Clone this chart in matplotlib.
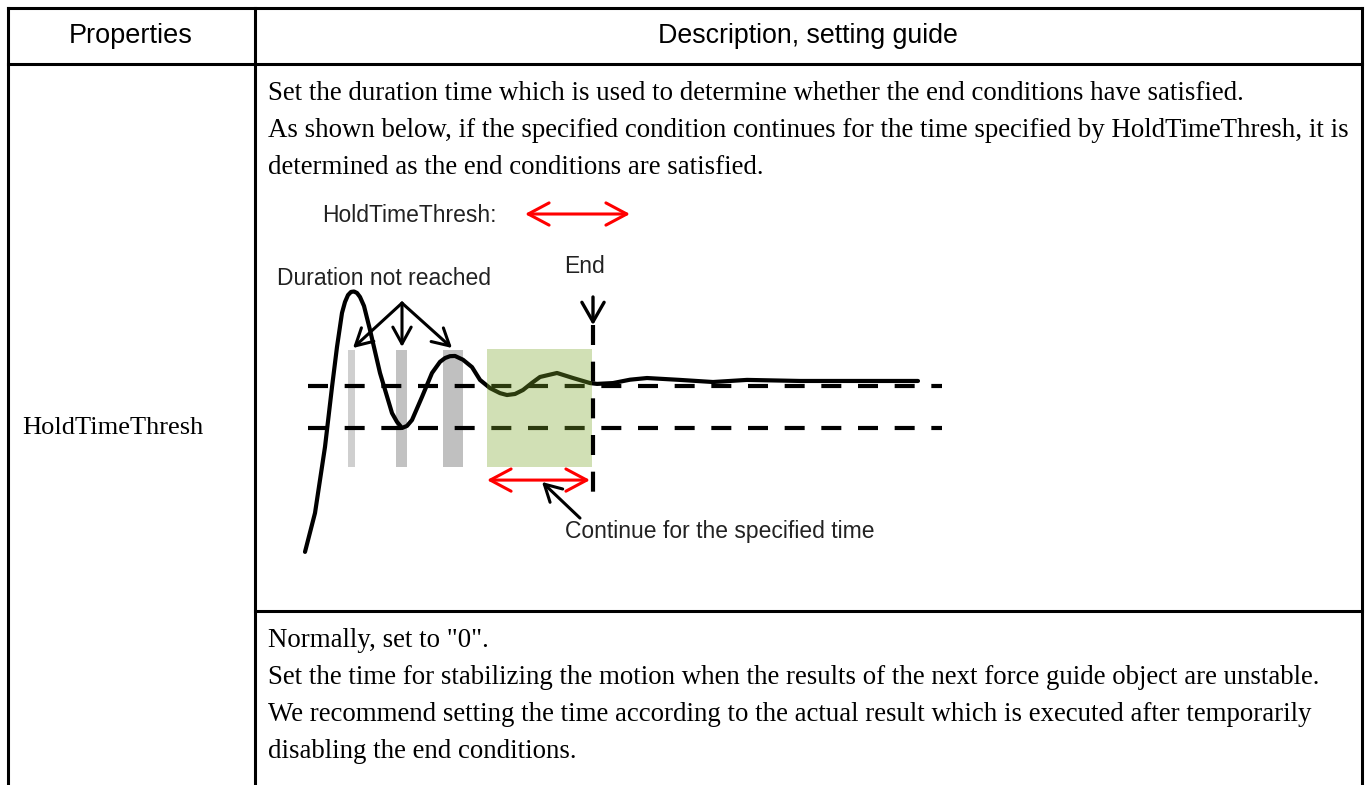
import matplotlib.pyplot as plt
import numpy as np
from matplotlib.patches import Rectangle, FancyArrowPatch

# Textos de la tabla
header = ["Properties", "Description, setting guide"]
prop_name = "HoldTimeThresh"
desc_top = [
    "Set the duration time which is used to determine whether the end conditions have satisfied.",
    "As shown below, if the specified condition continues for the time specified by HoldTimeThresh, it is",
    "determined as the end conditions are satisfied.",
]
desc_bottom = [
    'Normally, set to "0".',
    "Set the time for stabilizing the motion when the results of the next force guide object are unstable.",
    "We recommend setting the time according to the actual result which is executed after temporarily",
    "disabling the end conditions.",
]

# Datos del diagrama (tiempo, respuesta)
curve_t = [0.5, 1.5, 2.5, 3.2, 3.7, 4.2, 4.5, 4.8, 5.1, 5.4, 5.7, 6.0, 6.4, 7.0, 8.0, 9.2,
           9.7, 10.2, 10.7, 11.2, 12.2, 13.2, 14.0, 14.5, 15.0, 15.5, 16.3, 17.2, 18.0, 19.0,
           20.0, 20.7, 21.5, 22.3, 23.2, 24.0, 25.7, 27.3, 29.0, 29.7, 31.3, 33.0, 34.7, 38.0,
           41.3, 44.7, 50.0, 55.0, 61.8]
curve_v = [-6.90, -5.05, -1.90, 0.95, 2.86, 4.48, 5.00, 5.33, 5.48, 5.50, 5.43, 5.24, 4.81,
           3.67, 1.62, -0.29, -0.71, -1.00, -0.90, -0.62, 0.48, 1.62, 2.15, 2.33, 2.42, 2.43,
           2.25, 1.90, 1.29, 0.90, 0.66, 0.57, 0.62, 0.81, 1.15, 1.43, 1.62, 1.38, 1.14, 1.10,
           1.14, 1.30, 1.38, 1.29, 1.19, 1.29, 1.24, 1.24, 1.24]
thresholds = [1.0, -1.0]
bars = [(4.8, 5.5, "#cfcfcf"), (9.6, 10.7, "#c2c2c2"), (14.3, 16.3, "#c0c0c0")]
bar_v = (-2.86, 2.71)
hold_window = (18.7, 29.2)
end_t = 29.3

fig = plt.figure(figsize=(13.7, 7.85), dpi=100)

# Tabla en coordenadas de pixel
ax = fig.add_axes([0, 0, 1, 1])
ax.set_xlim(0, 1370)
ax.set_ylim(785, 0)
ax.axis("off")

lw_t = 2.2
ax.plot([8, 1362], [8, 8], color="black", lw=lw_t, solid_capstyle="projecting")
ax.plot([8, 1362], [64, 64], color="black", lw=lw_t)
ax.plot([255, 1362], [611, 611], color="black", lw=lw_t)
for x in [8, 255, 1362]:
    ax.plot([x, x], [8, 785], color="black", lw=lw_t, solid_capstyle="projecting")

ax.text(131, 36, header[0], ha="center", va="center", fontsize=19.5,
        family="Liberation Sans")
ax.text(808, 36, header[1], ha="center", va="center", fontsize=19.3,
        family="Liberation Sans")
ax.text(22, 434, prop_name, ha="left", va="baseline", fontsize=19,
        family="Liberation Serif")
for i, line in enumerate(desc_top):
    ax.text(268, 100 + i * 37, line, ha="left", va="baseline", fontsize=19.4,
            family="Liberation Serif")
for i, line in enumerate(desc_bottom):
    ax.text(268, 647 + i * 37, line, ha="left", va="baseline", fontsize=19.4,
            family="Liberation Serif")

# Diagrama
dx0, dx1, dy0, dy1 = 260, 960, 190, 560
d = fig.add_axes([dx0 / 1370, 1 - dy1 / 785, (dx1 - dx0) / 1370, (dy1 - dy0) / 785])
d.set_xlim(-4, 66)
d.set_ylim((407 - dy1) / 21, (407 - dy0) / 21)
d.axis("off")

for t0, t1, c in bars:
    d.add_patch(Rectangle((t0, bar_v[0]), t1 - t0, bar_v[1] - bar_v[0], color=c, lw=0, zorder=1))

for th in thresholds:
    d.plot([0.8, 64.2], [th, th], color="black", lw=3, linestyle=(0, (4.8, 4.0)), zorder=2)

d.plot(curve_t, curve_v, color="black", lw=3, solid_joinstyle="round",
       solid_capstyle="round", zorder=3)

d.add_patch(Rectangle((hold_window[0], -2.86), hold_window[1] - hold_window[0], 5.62,
                      color="#7da82b", alpha=0.35, lw=0, zorder=4))

d.plot([end_t, end_t], [3.9, -4.1], color="black", lw=3, linestyle=(0, (4.8, 4.0)), zorder=5)

# Flechas
def arrow(p0, p1, color="black", style="->,head_length=0.6,head_width=0.33", lw=2.2):
    d.add_patch(FancyArrowPatch(p0, p1, arrowstyle=style, mutation_scale=20, color=color,
                                lw=lw, shrinkA=0, shrinkB=0, zorder=6))

for tip in [(5.3, 2.81), (10.2, 2.86), (15.2, 2.81)]:
    arrow((10.2, 4.95), tip)
arrow((end_t, 5.24), (end_t, 3.9), style="->,head_length=0.7,head_width=0.4", lw=2.4)
red = "<->,head_length=0.75,head_width=0.4"
arrow((22.5, 9.19), (33.0, 9.19), color="red", style=red)
arrow((hold_window[0], -3.48), (29.0, -3.48), color="red", style=red)
arrow((28.0, -5.29), (24.2, -3.57))

txt = dict(family="Liberation Sans", fontsize=16.5, color="#222222", va="baseline")
d.text(2.2, 8.81, "HoldTimeThresh:", ha="left", **txt)
d.text(-2.3, 5.81, "Duration not reached", ha="left", **txt)
d.text(28.5, 6.38, "End", ha="center", **txt)
d.text(26.5, -6.24, "Continue for the specified time", ha="left", **txt)

fig.savefig("out.png", dpi=100)
